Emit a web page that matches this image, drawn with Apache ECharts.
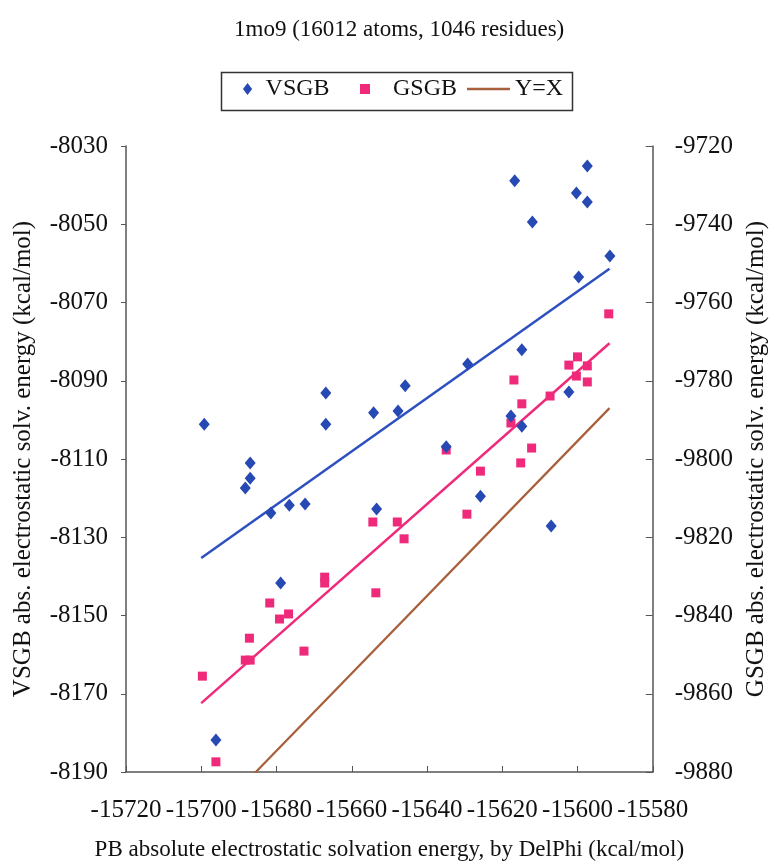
<!DOCTYPE html>
<html>
<head>
<meta charset="utf-8">
<script src="https://cdn.jsdelivr.net/npm/echarts@6/dist/echarts.min.js"></script>
<style>
html,body{margin:0;padding:0;background:#fff;}
#chart{width:777px;height:867px;}
</style>
</head>
<body>
<div id="chart"></div>
<script>
// ---- Data ----
var titleText = '1mo9 (16012 atoms, 1046 residues)';
var xAxisName = 'PB absolute electrostatic solvation energy, by DelPhi (kcal/mol)';
var leftAxisName = 'VSGB abs. electrostatic solv. energy (kcal/mol)';
var rightAxisName = 'GSGB abs. electrostatic solv. energy (kcal/mol)';

var xMin = -15720, xMax = -15580, xStep = 20;
var leftMin = -8190, leftMax = -8030, leftStep = 20;
var rightMin = -9880, rightMax = -9720, rightStep = 20;

var vsgbX = [-15699.2,-15696.1,-15688.3,-15687.0,-15687.0,-15681.5,-15676.6,-15672.4,-15678.9,-15666.9,
             -15666.9,-15654.2,-15653.4,-15647.7,-15645.8,-15634.9,-15629.2,-15625.8,-15617.7,-15614.8,
             -15614.8,-15616.7,-15612.0,-15607.0,-15602.3,-15600.3,-15599.7,-15597.4,-15597.4,-15591.4];
var vsgbY = [-8101.1,-8181.8,-8117.4,-8114.9,-8111.0,-8123.8,-8121.8,-8121.5,-8141.7,-8093.1,
             -8101.1,-8098.2,-8122.8,-8097.7,-8091.3,-8106.9,-8085.7,-8119.5,-8099.0,-8101.6,
             -8082.1,-8038.9,-8049.4,-8127.1,-8092.9,-8042.0,-8063.5,-8035.1,-8044.3,-8058.1];

var gsgbX = [-15699.7,-15696.1,-15688.3,-15687.2,-15687.0,-15681.8,-15679.2,-15676.8,-15672.7,-15667.2,
             -15667.2,-15654.4,-15653.6,-15647.9,-15646.1,-15634.9,-15629.4,-15625.8,-15617.7,-15616.9,
             -15615.1,-15614.8,-15612.2,-15607.3,-15602.3,-15600.0,-15600.3,-15597.4,-15597.4,-15591.7];
var gsgbY = [-9855.5,-9877.4,-9851.4,-9845.8,-9851.4,-9836.8,-9840.9,-9839.6,-9849.1,-9830.2,
             -9831.7,-9816.1,-9834.2,-9816.1,-9820.4,-9797.7,-9814.1,-9803.1,-9790.8,-9779.8,
             -9801.0,-9785.9,-9797.2,-9783.9,-9776.0,-9773.9,-9778.8,-9776.2,-9780.3,-9762.9];

// trend lines (end points)
var vsgbFitX = [-15700.0, -15591.5];
var vsgbFitY = [-8135.3, -8061.4];
var gsgbFitX = [-15700.0, -15591.5];
var gsgbFitY = [-9862.4, -9770.4];
var yxX = [-15686.5, -15591.5];
var yxY = [-9881.0, -9787.0];

// ---- Build ----
function zip(a, b) { return a.map(function (v, i) { return [v, b[i]]; }); }
function plain(v) { return String(v); }

var FONT = '"Liberation Serif", "Times New Roman", serif';
var BLUE = '#2649b4';
var PINK = '#ef2a7a';
var BROWN = '#a8603c';
var AXIS = '#555';

var chart = echarts.init(document.getElementById('chart'), null, {renderer: 'canvas'});

var legendBase = {
  orient: 'horizontal', top: 77, padding: 0,
  textStyle: {fontFamily: FONT, fontSize: 24, color: '#111'},
  selectedMode: false
};

chart.setOption({
  backgroundColor: '#fff',
  animation: false,
  title: {
    text: titleText, left: 229, top: 13,
    textStyle: {fontFamily: FONT, fontSize: 23, fontWeight: 'normal', color: '#111'}
  },
  legend: [
    Object.assign({}, legendBase, {
      left: 243, itemWidth: 26, itemHeight: 12,
      data: [{name: 'VSGB', icon: 'path://M0,-1.25L0.95,0L0,1.25L-0.95,0Z', itemStyle: {color: BLUE, opacity: 1}}]
    }),
    Object.assign({}, legendBase, {
      left: 360, itemWidth: 46, itemHeight: 10,
      data: [{name: 'GSGB', icon: 'path://M0,0H1V1H0Z', itemStyle: {color: PINK, opacity: 1}}]
    }),
    Object.assign({}, legendBase, {
      left: 467, itemWidth: 43, itemHeight: 2.5,
      data: [{name: 'Y=X', icon: 'rect'}]
    })
  ],
  graphic: [{
    type: 'rect', left: 219, top: 70,
    shape: {width: 351, height: 38},
    style: {fill: 'none', stroke: '#333', lineWidth: 1.5}
  }],
  grid: {left: 126, right: 114, top: 146, bottom: 95, containLabel: false},
  xAxis: {
    type: 'value', min: xMin, max: xMax, interval: xStep,
    name: xAxisName, nameLocation: 'middle', nameGap: 66,
    nameTextStyle: {fontFamily: FONT, fontSize: 23, color: '#111'},
    axisLine: {show: true, lineStyle: {color: AXIS, width: 1.5}},
    axisTick: {show: true, inside: true, length: 6, lineStyle: {color: AXIS}},
    axisLabel: {fontFamily: FONT, fontSize: 25, color: '#111', margin: 26, formatter: plain},
    splitLine: {show: false}
  },
  yAxis: [
    {
      type: 'value', position: 'left', min: leftMin, max: leftMax, interval: leftStep,
      name: leftAxisName, nameLocation: 'middle', nameGap: 90, nameRotate: 90,
      nameTextStyle: {fontFamily: FONT, fontSize: 25, color: '#111'},
      axisLine: {show: true, lineStyle: {color: AXIS, width: 1.5}},
      axisTick: {show: true, inside: false, length: 5, lineStyle: {color: AXIS}},
      axisLabel: {fontFamily: FONT, fontSize: 25, color: '#111', margin: 18, formatter: plain},
      splitLine: {show: false}
    },
    {
      type: 'value', position: 'right', min: rightMin, max: rightMax, interval: rightStep,
      name: rightAxisName, nameLocation: 'middle', nameGap: 87, nameRotate: 90,
      nameTextStyle: {fontFamily: FONT, fontSize: 25, color: '#111'},
      axisLine: {show: true, lineStyle: {color: AXIS, width: 1.5}},
      axisTick: {show: true, inside: true, length: 7, lineStyle: {color: AXIS}},
      axisLabel: {fontFamily: FONT, fontSize: 25, color: '#111', margin: 22, formatter: plain},
      splitLine: {show: false}
    }
  ],
  series: [
    {
      name: 'VSGB', type: 'scatter', yAxisIndex: 0,
      symbol: 'diamond', symbolSize: [11, 13],
      itemStyle: {color: BLUE, opacity: 1},
      data: zip(vsgbX, vsgbY), z: 5
    },
    {
      name: 'GSGB', type: 'scatter', yAxisIndex: 1,
      symbol: 'rect', symbolSize: 9,
      itemStyle: {color: PINK, opacity: 1},
      data: zip(gsgbX, gsgbY), z: 4
    },
    {
      name: 'VSGB fit', type: 'line', yAxisIndex: 0, showSymbol: false,
      lineStyle: {color: '#2d50c0', width: 2.5}, itemStyle: {color: BLUE},
      data: zip(vsgbFitX, vsgbFitY), z: 3, silent: true
    },
    {
      name: 'GSGB fit', type: 'line', yAxisIndex: 1, showSymbol: false,
      lineStyle: {color: PINK, width: 2.5}, itemStyle: {color: PINK},
      data: zip(gsgbFitX, gsgbFitY), z: 3, silent: true
    },
    {
      name: 'Y=X', type: 'line', yAxisIndex: 1, showSymbol: false, clip: true,
      lineStyle: {color: BROWN, width: 2.2}, itemStyle: {color: BROWN},
      data: zip(yxX, yxY), z: 3
    }
  ]
});
</script>
</body>
</html>
